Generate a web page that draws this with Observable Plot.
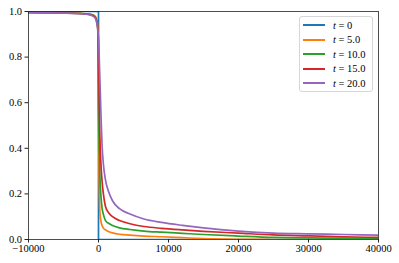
<!DOCTYPE html>
<html><head><meta charset="utf-8">
<script src="https://cdn.jsdelivr.net/npm/d3@7"></script>
<script src="https://cdn.jsdelivr.net/npm/@observablehq/plot@0.6"></script>
<style>
body{margin:0;background:#fff;}
#wrap{position:relative;width:399px;height:263px;}
#chart svg text{font-family:"Liberation Serif","DejaVu Serif",serif !important;}
#legend{position:absolute;left:299px;top:16px;width:74px;height:76px;border:1px solid #d6d6d6;border-radius:3px;background:rgba(255,255,255,0.85);box-sizing:border-box;font-family:"Liberation Serif","DejaVu Serif",serif;font-size:10.5px;color:#000;}
.row{position:absolute;left:3px;height:14px;display:flex;align-items:center;white-space:nowrap;}
.sw{width:22px;height:2px;margin-right:8px;}
</style></head>
<body><div id="wrap"><div id="chart"></div><div id="legend"></div></div>
<script>
const seriesLabels = ["0", "5.0", "10.0", "15.0", "20.0"];
const seriesColors = ["#1f77b4", "#ff7f0e", "#2ca02c", "#d62728", "#9467bd"];

// t = 0 : step
const blueX = [-10000, 0, 0, 40000];
const blueY = [1, 1, 0, 0];

const xGrid = [-10000, -5000, -2000, -1000, -500, -250, -100, 0, 100, 200, 350, 500, 700, 1000, 1500, 2000, 3000, 4500, 6500, 9000, 12000, 15000, 20000, 25000, 30000, 35000, 40000];
const orangeY = [0.996, 0.994, 0.991, 0.987, 0.98, 0.965, 0.93, 0.5, 0.25, 0.12, 0.08, 0.062, 0.05, 0.042, 0.034, 0.029, 0.023, 0.019, 0.015, 0.012, 0.008, 0.004, 0.001, 0, 0, 0, 0];
const greenY = [0.996, 0.994, 0.99, 0.986, 0.978, 0.96, 0.92, 0.6, 0.4, 0.28, 0.19, 0.14, 0.11, 0.083, 0.07, 0.061, 0.051, 0.044, 0.037, 0.032, 0.027, 0.022, 0.015, 0.009, 0.007, 0.006, 0.005];
const redY = [0.996, 0.993, 0.99, 0.985, 0.976, 0.955, 0.93, 0.85, 0.6, 0.45, 0.33, 0.26, 0.2, 0.145, 0.115, 0.1, 0.083, 0.069, 0.057, 0.049, 0.042, 0.036, 0.028, 0.02, 0.016, 0.012, 0.009];
const purpleY = [0.995, 0.993, 0.989, 0.983, 0.972, 0.95, 0.92, 0.88, 0.8, 0.7, 0.55, 0.42, 0.33, 0.26, 0.205, 0.17, 0.135, 0.112, 0.09, 0.075, 0.062, 0.051, 0.037, 0.028, 0.025, 0.022, 0.019];

const xTicks = [-10000, 0, 10000, 20000, 30000, 40000];
const yTicks = [0, 0.2, 0.4, 0.6, 0.8, 1.0];

const data = [];
blueX.forEach((x, i) => data.push({s: seriesLabels[0], x, y: blueY[i]}));
[orangeY, greenY, redY, purpleY].forEach((arr, k) => {
  arr.forEach((y, i) => data.push({s: seriesLabels[k + 1], x: xGrid[i], y}));
});

const chart = Plot.plot({
  width: 399, height: 263,
  marginLeft: 28, marginRight: 21, marginTop: 11, marginBottom: 24,
  style: {fontFamily: "'Liberation Serif', serif", fontSize: "10.5px", color: "#000", background: "#fff"},
  x: {domain: [-10000, 40000], label: null},
  y: {domain: [0, 1], label: null},
  color: {domain: seriesLabels, range: seriesColors},
  marks: [
    Plot.line(data, {x: "x", y: "y", z: "s", stroke: "s", strokeWidth: 1.7, curve: "monotone-x", clip: true}),
    Plot.frame({stroke: "#222", strokeWidth: 0.8}),
    Plot.axisX({ticks: xTicks, tickSize: 3.5, tickPadding: 2, stroke: "#222",
      tickFormat: d => d < 0 ? "\u2212" + Math.abs(d) : String(d), label: null}),
    Plot.axisY({ticks: yTicks, tickSize: 3.5, tickPadding: 3, stroke: "#222",
      tickFormat: d3.format(".1f"), label: null})
  ]
});
document.getElementById("chart").appendChild(chart);

const legend = document.getElementById("legend");
seriesLabels.forEach((lab, i) => {
  const row = document.createElement("div");
  row.className = "row";
  row.style.top = (1 + i * 14.5) + "px";
  row.innerHTML = `<span class="sw" style="background:${seriesColors[i]}"></span><span><i>t</i> = ${lab}</span>`;
  legend.appendChild(row);
});
</script>
</body></html>
